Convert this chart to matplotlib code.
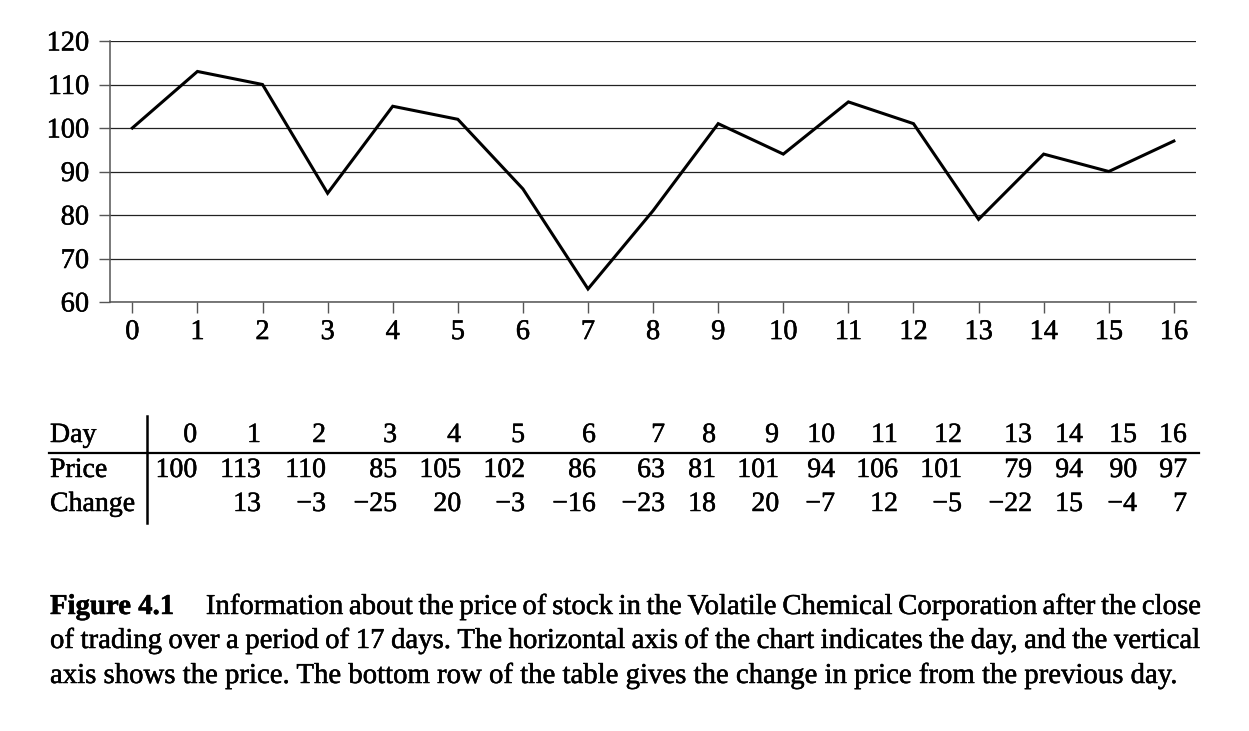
import matplotlib
matplotlib.use("Agg")
import matplotlib.pyplot as plt
from matplotlib.lines import Line2D
import matplotlib.patheffects as pe

# ---------------- data ----------------
days = list(range(17))
price = [100, 113, 110, 85, 105, 102, 86, 63, 81, 101, 94, 106, 101, 79, 94, 90, 97]
change = [None, 13, -3, -25, 20, -3, -16, -23, 18, 20, -7, 12, -5, -22, 15, -4, 7]
yticks = [60, 70, 80, 90, 100, 110, 120]
row_labels = ["Day", "Price", "Change"]
caption_head = "Figure 4.1"
caption_lines = [
    "Information about the price of stock in the Volatile Chemical Corporation after the close",
    "of trading over a period of 17 days. The horizontal axis of the chart indicates the day, and the vertical",
    "axis shows the price. The bottom row of the table gives the change in price from the previous day.",
]

# ---------------- layout ----------------
W, H = 1249, 731
SERIF = ["Liberation Serif", "DejaVu Serif"]
HEAVY = [pe.withStroke(linewidth=0.35, foreground="black")]
fig = plt.figure(figsize=(W / 100, H / 100), dpi=100)
renderer = fig.canvas.get_renderer()


def fx(x):
    return x / W


def fy(y):
    return 1 - y / H


def text_width(s, size, weight="normal"):
    t = fig.text(0, 0, s, fontsize=size, family=SERIF, weight=weight)
    w = t.get_window_extent(renderer).width
    t.remove()
    return w


def fit_size(s, target, weight="normal"):
    return 20 * target / text_width(s, 20, weight)


def put(x, y, s, size, ha="left", weight="normal"):
    fig.text(fx(x), fy(y), s, fontsize=size, family=SERIF, weight=weight,
             va="baseline", ha=ha, path_effects=HEAVY)


# ---------------- chart ----------------
ax = fig.add_axes([fx(110), fy(302), (1196 - 110) / W, (302 - 41) / H])
ax.plot(days, price, color="black", lw=2.2, solid_joinstyle="miter")
ax.set_xlim(-0.343, 16.34)
ax.set_ylim(60, 120)
ax.set_yticks(yticks)
ax.set_xticks(days)
ax.yaxis.grid(True, color="#222222", lw=0.9)
ax.set_axisbelow(True)
for s in ("top", "right"):
    ax.spines[s].set_visible(False)
for s in ("left", "bottom"):
    ax.spines[s].set_color("#555555")
    ax.spines[s].set_linewidth(1.1)
tick_size = fit_size("120", 42.5)
ax.tick_params(axis="both", direction="out", length=8, width=1.0, color="#555555",
               labelsize=tick_size, labelcolor="black")
ax.tick_params(axis="y", pad=7.0)
ax.tick_params(axis="x", pad=5.0)
for lab in ax.get_xticklabels() + ax.get_yticklabels():
    lab.set_family(SERIF)
    lab.set_path_effects(HEAVY)

# ---------------- table ----------------
table_size = fit_size("Change", 85)
col_right = [197, 261, 326, 397, 461, 525, 596, 665, 716, 779, 835, 898, 962, 1032, 1083, 1137, 1187]
row_base = [442, 477, 511]


def fmt(v):
    if v is None:
        return ""
    return ("\u2212" + str(-v)) if v < 0 else str(v)


for lbl, yb in zip(row_labels, row_base):
    put(50, yb, lbl, table_size)
rows = [days, price, change]
for r, yb in zip(rows, row_base):
    for v, xr in zip(r, col_right):
        put(xr, yb, fmt(v), table_size, ha="right")
fig.add_artist(Line2D([fx(147), fx(147)], [fy(416), fy(523)], transform=fig.transFigure,
                      color="black", lw=1.8))
fig.add_artist(Line2D([fx(49), fx(1199)], [fy(453), fy(453)], transform=fig.transFigure,
                      color="black", lw=1.6))

# ---------------- caption ----------------
cap_size = fit_size(caption_lines[2], 1127)
cap_base = [614, 648, 683]
left, right = 50, 1201


def justify(words, x0, x1, yb):
    widths = [text_width(w, cap_size) for w in words]
    gap = (x1 - x0 - sum(widths)) / (len(words) - 1)
    x = x0
    for w, wd in zip(words, widths):
        put(x, yb, w, cap_size)
        x += wd + gap


head_w = text_width(caption_head, cap_size, "bold")
put(left, cap_base[0], caption_head, cap_size, weight="bold")
justify(caption_lines[0].split(), left + head_w + 32, right, cap_base[0])
justify(caption_lines[1].split(), left, 1200, cap_base[1])
put(left, cap_base[2], caption_lines[2], cap_size)

fig.savefig("out.png", dpi=100, facecolor="white")
